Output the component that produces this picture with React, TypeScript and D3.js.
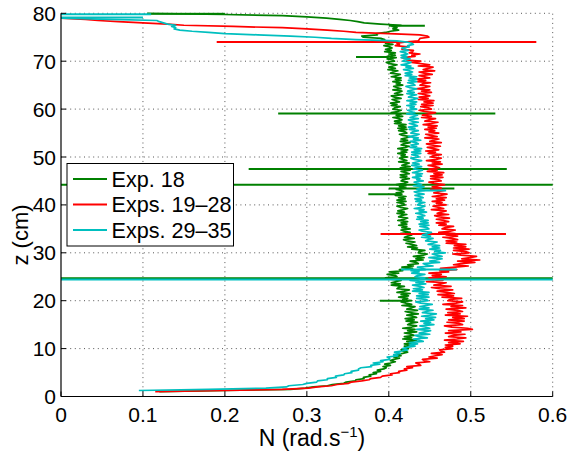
import React from 'react';
import * as d3 from 'd3';

// depth grid (cm): 1.00, 1.25, ... 80.00 (one value per depth in each series)
const depthStart = 1;
const depthStep = 0.25;

const exp18: (number | null)[] = [
  0.120,0.200,0.280,0.298,0.308,0.325,0.331,0.345,0.348,0.359,0.360,0.370,0.369,0.378,0.376,0.385,0.381,0.390,0.386,0.394,
  0.397,0.393,0.402,0.395,0.402,0.408,0.402,0.406,0.413,0.406,0.415,0.410,0.417,0.423,0.417,0.415,0.424,0.424,0.419,0.427,
  0.419,0.431,0.422,0.434,0.417,0.428,0.419,0.431,0.427,0.419,0.434,0.423,0.432,0.417,0.428,0.434,0.423,0.426,0.435,0.421,
  0.431,0.420,0.434,0.429,0.422,0.436,0.426,0.420,0.435,0.422,0.427,0.432,0.416,0.428,0.421,0.415,0.428,0.417,0.423,0.412,
  0.424,0.415,0.426,0.410,0.419,0.425,0.410,0.412,0.419,0.403,0.414,0.403,0.409,0.415,0.401,0.396,0.410,0.408,0.398,0.412,
  0.401,0.417,0.413,0.429,0.416,0.430,0.423,0.436,0.433,0.426,0.442,0.433,0.443,0.430,0.442,0.447,0.436,0.437,0.444,0.428,
  0.435,0.423,0.434,0.428,0.421,0.432,0.422,0.418,0.431,0.419,0.424,0.428,0.414,0.426,0.419,0.415,0.426,0.416,0.422,0.412,
  0.422,0.415,0.423,0.411,0.419,0.423,0.412,0.415,0.422,0.410,0.419,0.411,0.418,0.423,0.414,0.410,0.420,0.418,0.410,0.421,
  0.410,0.420,0.412,0.421,0.408,0.416,0.409,0.418,0.415,0.409,0.421,0.413,0.421,0.409,0.419,0.423,0.415,0.417,0.425,0.414,
  0.422,0.414,0.425,0.421,0.415,0.426,0.418,0.414,0.426,0.416,0.421,0.425,0.412,0.422,0.417,0.413,0.423,0.415,0.420,0.411,
  0.422,0.415,0.423,0.411,0.420,0.425,0.415,0.418,0.426,0.414,0.423,0.415,0.421,0.426,0.417,0.413,0.422,0.420,0.412,0.422,
  0.411,0.421,0.412,0.421,0.407,0.415,0.407,0.416,0.413,0.405,0.417,0.409,0.415,0.403,0.411,0.415,0.405,0.407,0.414,0.403,
  0.410,0.402,0.413,0.409,0.404,0.415,0.407,0.403,0.417,0.407,0.412,0.416,0.405,0.415,0.410,0.406,0.417,0.409,0.414,0.405,
  0.415,0.408,0.415,0.403,0.410,0.414,0.402,0.405,0.411,0.399,0.408,0.400,0.405,0.410,0.401,0.397,0.407,0.405,0.398,0.409,
  0.398,0.408,0.400,0.408,0.395,0.403,0.396,0.404,0.401,0.394,0.405,0.396,0.403,0.389,0.395,0.391,0.369,0.367,0.386,0.385,
  0.396,0.402,0.412,0.405,0.410,0.404,0.415,0.390,0.370,0.362,0.353,0.340,0.324,0.300,0.270,0.200,0.105,
];

const exps19to28: (number | null)[] = [
  0.115,0.200,0.270,0.302,0.313,0.330,0.337,0.351,0.354,0.367,0.376,0.378,0.390,0.392,0.404,0.402,0.413,0.412,0.422,0.419,
  0.429,0.422,0.439,0.437,0.433,0.450,0.443,0.441,0.459,0.449,0.457,0.465,0.452,0.468,0.464,0.462,0.478,0.469,0.478,0.469,
  0.487,0.473,0.491,0.468,0.483,0.494,0.473,0.479,0.493,0.469,0.488,0.473,0.502,0.496,0.477,0.468,0.490,0.486,0.471,0.492,
  0.473,0.492,0.478,0.496,0.469,0.487,0.472,0.490,0.484,0.470,0.494,0.476,0.490,0.466,0.482,0.490,0.472,0.475,0.489,0.465,
  0.479,0.460,0.480,0.471,0.459,0.478,0.462,0.452,0.476,0.455,0.463,0.470,0.446,0.466,0.456,0.449,0.470,0.453,0.464,0.449,
  0.473,0.462,0.483,0.463,0.481,0.497,0.479,0.488,0.505,0.484,0.511,0.489,0.499,0.507,0.488,0.478,0.498,0.494,0.479,0.498,
  0.479,0.494,0.480,0.494,0.470,0.483,0.470,0.484,0.477,0.466,0.484,0.470,0.481,0.461,0.475,0.481,0.465,0.469,0.479,0.461,
  0.470,0.458,0.473,0.467,0.458,0.474,0.462,0.456,0.473,0.459,0.464,0.470,0.452,0.467,0.460,0.454,0.470,0.458,0.465,0.453,
  0.468,0.458,0.470,0.453,0.463,0.471,0.455,0.460,0.468,0.451,0.464,0.453,0.460,0.468,0.455,0.449,0.464,0.461,0.451,0.466,
  0.451,0.465,0.455,0.467,0.447,0.459,0.449,0.462,0.457,0.448,0.465,0.453,0.463,0.446,0.458,0.464,0.451,0.454,0.464,0.448,
  0.457,0.445,0.461,0.455,0.447,0.463,0.452,0.446,0.464,0.450,0.455,0.461,0.444,0.459,0.451,0.445,0.461,0.449,0.456,0.444,
  0.458,0.448,0.459,0.442,0.452,0.460,0.444,0.449,0.457,0.440,0.452,0.441,0.449,0.457,0.443,0.437,0.452,0.449,0.439,0.454,
  0.440,0.454,0.443,0.455,0.436,0.448,0.437,0.450,0.445,0.436,0.452,0.440,0.450,0.433,0.444,0.450,0.438,0.441,0.451,0.435,
  0.445,0.433,0.450,0.444,0.437,0.453,0.443,0.437,0.456,0.442,0.448,0.454,0.436,0.450,0.439,0.428,0.439,0.422,0.424,0.416,
  0.432,0.428,0.438,0.425,0.429,0.430,0.416,0.418,0.423,0.408,0.413,0.410,0.419,0.436,0.437,0.438,0.449,0.447,0.438,0.400,
  0.360,0.345,0.325,0.300,0.270,0.210,0.150,0.130,0.100,0.070,0.045,0.030,-0.005,null,null,null,null,
];

const exps29to35: (number | null)[] = [
  null,0.095,0.180,0.250,0.275,0.278,0.295,0.300,0.312,0.313,0.325,0.325,0.336,0.335,0.345,0.346,0.355,0.354,0.363,0.363,
  0.366,0.379,0.378,0.389,0.381,0.393,0.390,0.401,0.401,0.398,0.411,0.406,0.414,0.407,0.416,0.423,0.417,0.422,0.432,0.425,
  0.435,0.425,0.442,0.437,0.430,0.447,0.437,0.432,0.450,0.437,0.444,0.451,0.434,0.450,0.444,0.438,0.455,0.443,0.451,0.439,
  0.455,0.445,0.457,0.440,0.450,0.458,0.441,0.446,0.454,0.437,0.449,0.438,0.445,0.453,0.439,0.433,0.448,0.445,0.434,0.449,
  0.434,0.448,0.437,0.449,0.429,0.441,0.430,0.443,0.438,0.429,0.445,0.433,0.443,0.426,0.438,0.444,0.432,0.435,0.444,0.428,
  0.437,0.427,0.445,0.441,0.435,0.454,0.445,0.442,0.462,0.450,0.458,0.465,0.449,0.465,0.458,0.453,0.469,0.456,0.463,0.450,
  0.462,0.453,0.462,0.448,0.454,0.459,0.445,0.448,0.454,0.440,0.451,0.441,0.447,0.452,0.441,0.437,0.449,0.447,0.438,0.449,
  0.437,0.448,0.439,0.448,0.434,0.442,0.435,0.444,0.440,0.433,0.446,0.437,0.443,0.431,0.440,0.444,0.435,0.437,0.444,0.433,
  0.440,0.432,0.442,0.438,0.432,0.443,0.435,0.431,0.444,0.434,0.439,0.443,0.430,0.440,0.435,0.431,0.442,0.434,0.438,0.429,
  0.440,0.433,0.441,0.429,0.436,0.441,0.430,0.433,0.440,0.428,0.437,0.429,0.435,0.440,0.431,0.427,0.437,0.435,0.428,0.439,
  0.428,0.439,0.431,0.440,0.426,0.434,0.427,0.436,0.433,0.426,0.439,0.430,0.436,0.424,0.433,0.437,0.427,0.429,0.436,0.425,
  0.432,0.424,0.435,0.431,0.425,0.436,0.428,0.424,0.436,0.426,0.431,0.435,0.422,0.432,0.427,0.423,0.434,0.426,0.431,0.422,
  0.433,0.426,0.434,0.422,0.430,0.435,0.424,0.427,0.434,0.422,0.431,0.423,0.429,0.434,0.425,0.421,0.432,0.430,0.423,0.434,
  0.424,0.434,0.425,0.434,0.420,0.428,0.420,0.429,0.425,0.418,0.430,0.421,0.427,0.415,0.423,0.427,0.417,0.419,0.426,0.415,
  0.422,0.415,0.423,0.420,0.414,0.424,0.419,0.416,0.425,0.423,0.430,0.428,0.422,0.410,0.360,0.330,0.310,0.280,0.240,0.200,
  0.180,0.160,0.145,0.138,0.140,0.135,0.140,0.130,0.125,0.120,0.117,0.060,0.000,null,null,null,null,
];

// isolated outliers: depth (cm), low and high N
const exp18Spikes = [
  { z: 20.0, lo: 0.389, hi: 0.42 },
  { z: 24.7, lo: 0, hi: 0.6 },
  { z: 42.2, lo: 0.375, hi: 0.415 },
  { z: 43.4, lo: 0.40, hi: 0.48 },
  { z: 44.2, lo: 0, hi: 0.6 },
  { z: 47.5, lo: 0.229, hi: 0.544 },
  { z: 59.1, lo: 0.265, hi: 0.53 },
  { z: 70.9, lo: 0.36, hi: 0.40 },
  { z: 77.4, lo: 0.40, hi: 0.444 },
  { z: 79.9, lo: 0.105, hi: 0.2 },
];
const exps19to28Spikes = [
  { z: 33.9, lo: 0.39, hi: 0.543 },
  { z: 74.0, lo: 0.19, hi: 0.58 },
];
const exps29to35Spikes = [
  { z: 24.45, lo: 0, hi: 0.6 },
  { z: 26.5, lo: 0.415, hi: 0.483 },
  { z: 43.0, lo: 0.437, hi: 0.47 },
  { z: 79.1, lo: 0, hi: 0.1 },
  { z: 79.8, lo: 0, hi: 0.11 },
];

const seriesNames = ['Exp. 18', 'Exps. 19\u201328', 'Exps. 29\u201335'];
const seriesColors = ['#008000', '#ff0000', '#00bfbf'];
const xTicks = [0, 0.1, 0.2, 0.3, 0.4, 0.5, 0.6];
const xTickLabels = ['0', '0.1', '0.2', '0.3', '0.4', '0.5', '0.6'];
const yTicks = [0, 10, 20, 30, 40, 50, 60, 70, 80];
const yTickLabels = ['0', '10', '20', '30', '40', '50', '60', '70', '80'];

const W = 571, H = 453;
const L = 61, R = 552.7, T = 13.3, B = 396.5;
const FONT = "'Liberation Sans', Arial, Helvetica, sans-serif";

export default function App() {
  const x = d3.scaleLinear().domain([0, 0.6]).range([L, R]);
  const y = d3.scaleLinear().domain([0, 80]).range([B, T]);
  const allSeries = [exp18, exps19to28, exps29to35];
  const allSpikes = [exp18Spikes, exps19to28Spikes, exps29to35Spikes];

  const line = d3
    .line<{ z: number; n: number | null }>()
    .defined((d) => d.n != null)
    .x((d) => x(d.n as number))
    .y((d) => y(d.z));

  const toPts = (arr: (number | null)[]) =>
    arr.map((n, i) => ({ z: depthStart + depthStep * i, n }));

  const grid = '#555';
  const dash = '1 3.6';

  return (
    <svg width={W} height={H} style={{ position: 'absolute', left: 0, top: 0, background: '#fff' }}
      fontFamily={FONT}>
      <defs>
        <clipPath id="plotclip">
          <rect x={L} y={T - 1} width={R - L + 1} height={B - T + 1} />
        </clipPath>
      </defs>
      <rect x={0} y={0} width={W} height={H} fill="#fff" />
      {xTicks.filter((t) => t > 0).map((t) => (
        <line key={'gx' + t} x1={x(t)} x2={x(t)} y1={B} y2={T} stroke={grid} strokeWidth={1} strokeDasharray={dash} />
      ))}
      {yTicks.filter((t) => t > 0).map((t) => (
        <line key={'gy' + t} x1={L} x2={R} y1={y(t)} y2={y(t)} stroke={grid} strokeWidth={1} strokeDasharray={dash} />
      ))}
      <g clipPath="url(#plotclip)">
        {allSeries.map((s, k) => (
          <g key={'s' + k}>
            <path d={line(toPts(s)) || ''} fill="none" stroke={seriesColors[k]} strokeWidth={1.7} strokeLinejoin="round" />
            {allSpikes[k].map((sp, j) => (
              <line key={j} x1={x(sp.lo)} x2={x(sp.hi)} y1={y(sp.z)} y2={y(sp.z)} stroke={seriesColors[k]} strokeWidth={2} />
            ))}
          </g>
        ))}
      </g>
      <line x1={L} x2={L} y1={T} y2={B} stroke="#000" strokeWidth={1.2} />
      <line x1={L} x2={R} y1={B} y2={B} stroke="#000" strokeWidth={1.2} />
      {xTicks.map((t, i) => (
        <g key={'xt' + t}>
          <line x1={x(t)} x2={x(t)} y1={B} y2={B - 5} stroke="#000" strokeWidth={1} />
          <text x={x(t)} y={422} textAnchor="middle" fontSize={21}>{xTickLabels[i]}</text>
        </g>
      ))}
      {yTicks.map((t, i) => (
        <g key={'yt' + t}>
          <line x1={L} x2={L + 5} y1={y(t)} y2={y(t)} stroke="#000" strokeWidth={1} />
          <text x={56} y={y(t) + 7.5} textAnchor="end" fontSize={21}>{yTickLabels[i]}</text>
        </g>
      ))}
      <text x={312} y={446} textAnchor="middle" fontSize={23}>
        N (rad.s<tspan dy={-9} fontSize={15}>{'\u22121'}</tspan><tspan dy={9}>)</tspan>
      </text>
      <text transform={`translate(28,235) rotate(-90)`} textAnchor="middle" fontSize={22}>z (cm)</text>
      <rect x={67} y={163.5} width={166.5} height={82.5} fill="#fff" stroke="#000" strokeWidth={1} />
      {seriesNames.map((nm, k) => {
        const cy = 179 + k * 25.5;
        return (
          <g key={'lg' + k}>
            <line x1={73} x2={107} y1={cy} y2={cy} stroke={seriesColors[k]} strokeWidth={2} />
            <text x={111.5} y={cy + 7.5} fontSize={21.6}>{nm}</text>
          </g>
        );
      })}
    </svg>
  );
}
